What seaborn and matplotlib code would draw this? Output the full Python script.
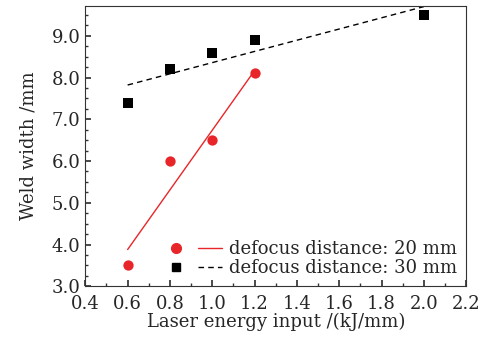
import numpy as np
import matplotlib
matplotlib.use("Agg")
import matplotlib.pyplot as plt
import seaborn as sns
import pandas as pd
from matplotlib.ticker import AutoMinorLocator, MultipleLocator
from matplotlib.legend_handler import HandlerTuple
from matplotlib.lines import Line2D

x20 = [0.6, 0.8, 1.0, 1.2]
y20 = [3.5, 6.0, 6.5, 8.1]
x30 = [0.6, 0.8, 1.0, 1.2, 2.0]
y30 = [7.4, 8.2, 8.6, 8.9, 9.5]
labels = ["defocus distance: 20 mm", "defocus distance: 30 mm"]

sns.set_theme(style="ticks")
plt.rcParams['font.family'] = ['DejaVu Serif']
plt.rcParams['mathtext.fontset'] = 'dejavuserif'

fig = plt.figure(figsize=(4.96, 3.42), dpi=100)
ax = fig.add_axes([0.172, 0.163, 0.768, 0.82])

df20 = pd.DataFrame({"x": x20, "y": y20})
df30 = pd.DataFrame({"x": x30, "y": y30})

red = "#e8262a"
sns.regplot(data=df20, x="x", y="y", ci=None, ax=ax, marker="o",
            scatter_kws=dict(color=red, s=55, linewidths=0, alpha=1),
            line_kws=dict(color=red, lw=1.0))
sns.regplot(data=df30, x="x", y="y", ci=None, ax=ax, marker="s",
            scatter_kws=dict(color="black", s=48, linewidths=0, alpha=1),
            line_kws=dict(color="black", lw=1.0, ls=(0, (4, 3))))

ax.set_xlim(0.4, 2.2)
ax.set_ylim(3.0, 9.72)
ax.xaxis.set_major_locator(MultipleLocator(0.2))
ax.yaxis.set_major_locator(MultipleLocator(1.0))
ax.xaxis.set_minor_locator(AutoMinorLocator(2))
ax.yaxis.set_minor_locator(AutoMinorLocator(4))
ax.set_xticklabels([f"{v:.1f}" for v in ax.get_xticks()])
ax.set_yticklabels([f"{v:.1f}" for v in ax.get_yticks()])
ax.tick_params(which="both", direction="in", color="#333333")
ax.tick_params(which="major", length=4, labelsize=13)
ax.tick_params(which="minor", length=2)
ax.tick_params(axis="x", which="major", pad=6)
for s in ax.spines.values():
    s.set_color("#333333")
    s.set_linewidth(0.8)

ax.set_xlabel("Laser energy input /(kJ/mm)", fontsize=13, labelpad=0)
ax.set_ylabel("Weld width /mm", fontsize=13, labelpad=10)

h1 = (Line2D([], [], color=red, marker="o", ls="none", markersize=7),
      Line2D([], [], color=red, lw=1.0))
h2 = (Line2D([], [], color="black", marker="s", ls="none", markersize=6),
      Line2D([], [], color="black", lw=1.0, ls=(0, (4, 3))))
ax.legend([h1, h2], labels, handler_map={tuple: HandlerTuple(ndivide=None, pad=0.6)},
          loc="lower right", frameon=False, fontsize=13, handlelength=3.2,
          handletextpad=0.4, labelspacing=0.05, borderaxespad=0.1)

fig.savefig("out.png", dpi=100)
